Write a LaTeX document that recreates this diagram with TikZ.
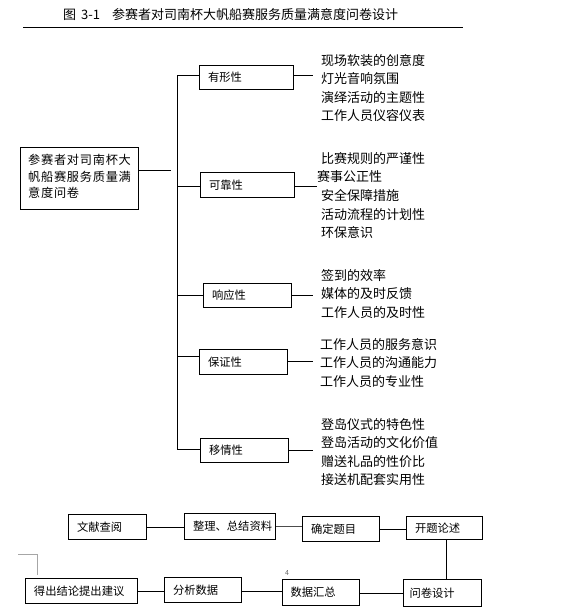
\documentclass[tikz,border=0pt]{standalone}
\usepackage{fontspec}
\setmainfont{Noto Sans CJK SC}
\newfontfamily\spacedfont[LetterSpace=6]{Noto Sans CJK SC}
\usetikzlibrary{calc}
\tikzset{
  every picture/.style={x=1pt,y=-1pt},
  box/.style={draw, line width=1pt, anchor=north west, inner xsep=8.5pt, inner ysep=0pt, align=left, font=\fontsize{11.3}{13}\selectfont},
  items/.style={anchor=west, inner sep=0pt, align=left, font=\fontsize{13}{18.6}\selectfont},
  conn/.style={line width=1pt},
  faint/.style={draw=gray!70, line width=0.8pt}
}
\begin{document}
\begin{tikzpicture}
\useasboundingbox (0,0) rectangle (570,611);
% title
\node[anchor=west, inner sep=0pt, font=\fontsize{13}{15}\selectfont] (title) at (63,15) {图\hspace{5pt}3-1\hspace{12pt}参赛者对司南杯大帆船赛服务质量满意度问卷设计};
\coordinate (tl) at (23,27);
\coordinate (tr) at (463,27);
\draw[conn] (tl) -- (tr);

% main box
\node[draw, line width=1pt, anchor=north west, inner sep=0pt, minimum width=118pt, minimum height=62pt] (main) at (20,147) {};
\node[anchor=north west, inner sep=0pt, align=left, font=\spacedfont\fontsize{12.2}{16.5}\selectfont] (maintext) at (28,154)
  {参赛者对司南杯大\\帆船赛服务质量满\\意度问卷};
\coordinate (mc) at (171,170);
\draw[conn] (main.east |- mc) -- (mc);

% trunk
\coordinate (t1) at (177,75);
\coordinate (t2) at (177,186);
\coordinate (t3) at (177,295);
\coordinate (t4) at (177,356);
\coordinate (t5) at (177,449);
\draw[conn] (t1) -- (t5);

% dimension boxes
\node[box, minimum width=94pt, minimum height=24pt, text width=77pt] (yx) at (199,65) {有形性};
\node[box, minimum width=94pt, minimum height=25pt, text width=77pt] (kk) at (200,172) {可靠性};
\node[box, minimum width=88pt, minimum height=24pt, text width=71pt] (xy) at (203,283) {响应性};
\node[box, minimum width=88pt, minimum height=25pt, text width=71pt] (bz) at (199,349) {保证性};
\node[box, minimum width=88pt, minimum height=24pt, text width=71pt] (yq) at (200,438) {移情性};

\draw[conn] (t1) -- (t1 -| yx.west);
\draw[conn] (t2) -- (t2 -| kk.west);
\draw[conn] (t3) -- (t3 -| xy.west);
\draw[conn] (t4) -- (t4 -| bz.west);
\draw[conn] (t5) -- (t5 -| yq.west);

% item lists
\node[items] (l1) at (321,88) {现场软装的创意度\\灯光音响氛围\\演绎活动的主题性\\工作人员仪容仪表};
\node[items] (l2) at (321,195.5) {比赛规则的严谨性\\\hspace*{-4pt}赛事公正性\\安全保障措施\\活动流程的计划性\\环保意识};
\node[items] (l3) at (321,294) {签到的效率\\媒体的及时反馈\\工作人员的及时性};
\node[items] (l4) at (320,363) {工作人员的服务意识\\工作人员的沟通能力\\工作人员的专业性};
\node[items] (l5) at (321,452) {登岛仪式的特色性\\登岛活动的文化价值\\赠送礼品的性价比\\接送机配套实用性};

\coordinate (r1) at (313,75);
\coordinate (r2) at (317,186);
\coordinate (r3) at (313,295);
\coordinate (r4) at (313,361);
\coordinate (r5) at (313,450);
\draw[conn] (r1 -| yx.east) -- (r1);
\draw[conn] (r2 -| kk.east) -- (r2);
\draw[conn] (r3 -| xy.east) -- (r3);
\draw[conn] (r4 -| bz.east) -- (r4);
\draw[conn] (r5 -| yq.east) -- (r5);

% process flow
\node[box, minimum width=78pt, minimum height=25pt, text width=61pt] (wx) at (68,514) {文献查阅};
\node[box, minimum width=91pt, minimum height=26pt, text width=74pt] (zl) at (184,513) {整理、总结资料};
\node[box, minimum width=77pt, minimum height=25pt, text width=60pt] (qd) at (302,516) {确定题目};
\node[box, minimum width=76pt, minimum height=23pt, text width=59pt] (kt) at (406,516) {开题论述};
\node[box, minimum width=78pt, minimum height=27pt, text width=66pt, inner xsep=5pt] (wj) at (403,579) {问卷设计};
\node[box, minimum width=77pt, minimum height=26pt, text width=61pt, inner xsep=8pt] (sj) at (282,579) {数据汇总};
\node[box, minimum width=77pt, minimum height=25pt, text width=60pt] (fx) at (164,577) {分析数据};
\node[box, minimum width=112pt, minimum height=25pt, text width=95pt] (dc) at (25,578) {得出结论提出建议};

\draw[conn] (wx.east) -- (zl.west |- wx.east);
\draw[conn, draw=black!70] (zl.east) -- (qd.west |- zl.east);
\draw[conn] (qd.east) -- (kt.west |- qd.east);
\coordinate (kx) at (446,0);
\draw[conn] (kt.south -| kx) -- (wj.north -| kx);
\coordinate (b1) at (0,593);
\coordinate (b2) at (0,591);
\draw[conn] (wj.west |- b1) -- (sj.east |- b1);
\draw[conn] (sj.west |- b2) -- (fx.east |- b2);
\draw[conn] (fx.west |- b2) -- (dc.east |- b2);

% page marks
\coordinate (m1) at (18,554);
\coordinate (m2) at (37,554);
\coordinate (m3) at (37,575);
\draw[faint] (m1) -- (m2) -- (m3);
\node[inner sep=0pt, text=gray!80!black, font=\fontsize{7}{8}\selectfont] (pn) at (287,573) {4};
\end{tikzpicture}
\end{document}
